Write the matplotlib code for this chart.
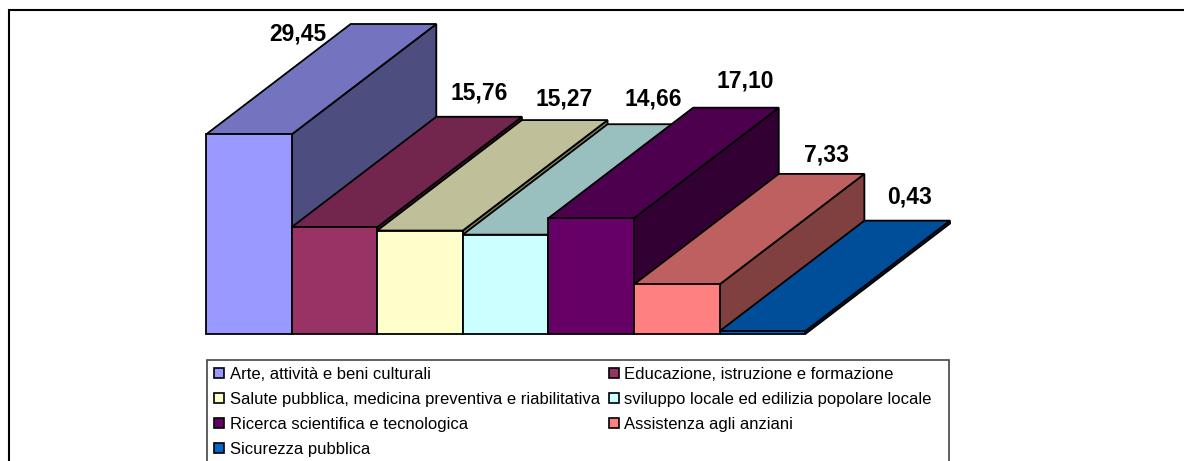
import matplotlib
matplotlib.use("Agg")
import matplotlib.pyplot as plt
from matplotlib.lines import Line2D
from matplotlib.patches import Polygon, Rectangle
from matplotlib.colors import to_rgb

W, H = 1184, 461

categories = ["Arte, attività e beni culturali",
              "Educazione, istruzione e formazione",
              "Salute pubblica, medicina preventiva e riabilitativa",
              "sviluppo locale ed edilizia popolare locale",
              "Ricerca scientifica e tecnologica",
              "Assistenza agli anziani",
              "Sicurezza pubblica"]
values = [29.45, 15.76, 15.27, 14.66, 17.10, 7.33, 0.43]
colors = ["#9999FF", "#993366", "#FFFFCC", "#CCFFFF", "#660066", "#FF8080", "#0066CC"]

# hand placed label offsets from the back centre of each bar, in pixels
label_dx = [-96, 0, -1, 3, 9, 5, 2]
label_dy = [-10, 24, 21, 25, 27, 19, 24]

# fake 3d depth, in axis units
depth_x = 1.69
depth_y = 16.3


def shade(color, f):
    r, g, b = to_rgb(color)
    return (r * f, g * f, b * f)


plt.rcParams["font.family"] = ["Liberation Sans", "DejaVu Sans"]

fig = plt.figure(figsize=(W / 100, H / 100), dpi=100)

# outer chart frame: only top and left are inside the image
fig.add_artist(Line2D([1, 9 / W, 9 / W], [1 - 10 / H, 1 - 10 / H, 0], transform=fig.transFigure,
                      color="black", linewidth=1.5, solid_joinstyle="miter"))

ax = fig.add_axes([206 / W, 1 - 334 / H, 744 / W, 310 / H])
ax.set_xlim(0, len(values) + depth_x)
ax.set_ylim(0, values[0] + depth_y)
ax.axis("off")

for i, (v, c) in enumerate(zip(values, colors)):
    side = [(i + 1, 0), (i + 1 + depth_x, depth_y), (i + 1 + depth_x, v + depth_y), (i + 1, v)]
    top = [(i, v), (i + depth_x, v + depth_y), (i + 1 + depth_x, v + depth_y), (i + 1, v)]
    ax.add_patch(Polygon(side, facecolor=shade(c, 0.5), edgecolor="black", linewidth=1.3, clip_on=False))
    ax.add_patch(Polygon(top, facecolor=shade(c, 0.75), edgecolor="black", linewidth=1.3, clip_on=False))
    ax.add_patch(Rectangle((i, 0), 1, v, facecolor=c, edgecolor="black", linewidth=1.3, clip_on=False))
    ax.annotate(f"{v:.2f}".replace(".", ","), (i + 0.5 + depth_x, v + depth_y),
                xytext=(label_dx[i] * 0.72, label_dy[i] * 0.72), textcoords="offset points",
                ha="center", va="center", fontsize=16.5, fontweight="bold", annotation_clip=False)

# legend box is cut by the image edge, so the frame is separate
fig.add_artist(Rectangle((207 / W, -0.1), 742 / W, 0.1 + 1 - 360 / H, transform=fig.transFigure,
                         facecolor="white", edgecolor="#444444", linewidth=1.2, zorder=2))

handles = [Rectangle((0, 0), 1, 1, facecolor=c, edgecolor="black", linewidth=1.2) for c in colors]
order = [0, 2, 4, 6, 1, 3, 5]
leg = fig.legend([handles[i] for i in order], [categories[i] for i in order], ncol=2,
                 loc="upper left", bbox_to_anchor=(207 / W, 1 - 360 / H), frameon=False,
                 fontsize=12, handlelength=0.6, handleheight=0.6, handletextpad=0.33,
                 labelspacing=0.6, columnspacing=0.55, borderpad=0.42, borderaxespad=0)
leg.set_zorder(3)

fig.savefig("out.png", dpi=100)
